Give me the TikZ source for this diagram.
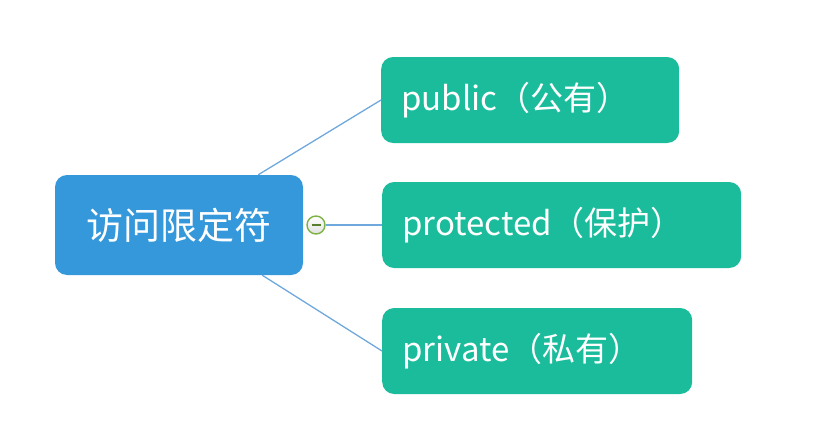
\documentclass[tikz,border=0pt]{standalone}
\usepackage{fontspec}
\setmainfont{Noto Sans CJK SC}
\usepackage{xcolor}
\usepackage{tikz}
\usetikzlibrary{positioning,calc}
\definecolor{rootblue}{HTML}{3498DB}
\definecolor{leafteal}{HTML}{1ABC9C}
\definecolor{linkblue}{HTML}{6FA8DC}
\definecolor{foldgreen}{HTML}{7CB342}

\begin{document}
\begin{tikzpicture}[x=1pt, y=-1pt,
  rootbox/.style={draw=none, fill=rootblue, rounded corners=12pt, text=white,
    minimum width=248pt, minimum height=100pt, font=\fontsize{37}{44}\selectfont},
  leafbox/.style={draw=none, fill=leafteal, rounded corners=12pt, text=white,
    minimum height=86pt, inner xsep=20pt, align=left, anchor=west,
    font=\fontsize{33}{39}\selectfont},
  link/.style={linkblue, line width=1.3pt},
  foldmark/.style={circle, draw=foldgreen, line width=1.4pt, inner sep=0pt,
    minimum size=18pt, top color=white, bottom color=black!12}]
\useasboundingbox (0,0) rectangle (820,423);

\node[rootbox] (root) at (179,225) {访问限定符};

\node[leafbox, text width=258pt] (pub) at (381,100) {public（公有）};
\node[leafbox, text width=319pt] (prot) at (382,225) {protected（保护）};
\node[leafbox, text width=270pt] (priv) at (382,351) {private（私有）};

% fold marker
\node[foldmark] (fold) at (316,225) {};
\draw[foldgreen!70!black, line width=1.6pt] ([xshift=-4.5pt]fold.center) -- ([xshift=4.5pt]fold.center);

\draw[link] ([xshift=-45pt]root.north east) -- (pub.west);
\draw[link] (fold.east) -- (prot.west);
\draw[link] ([xshift=-41pt]root.south east) -- (priv.west);
\end{tikzpicture}
\end{document}
